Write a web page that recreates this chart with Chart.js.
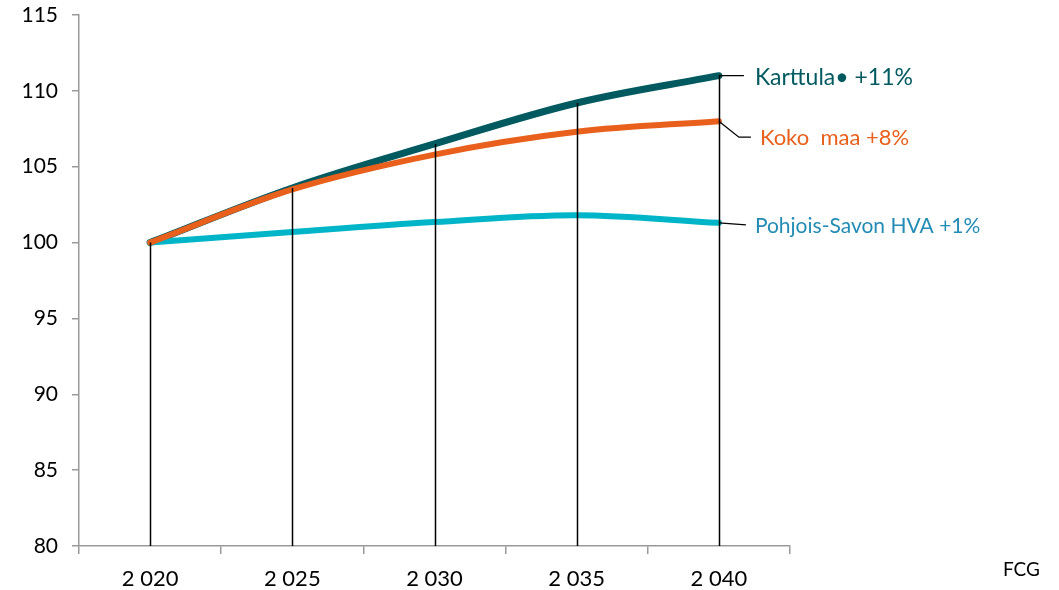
<!DOCTYPE html>
<html>
<head>
<meta charset="utf-8">
<script src="https://cdn.jsdelivr.net/npm/chart.js@4"></script>
<style>
  body { margin: 0; background: #fff; }
  canvas { display: block; }
</style>
</head>
<body>
<canvas id="chart" width="1059" height="590"></canvas>
<script>
// --- DATA ---
const years = ['2 020', '2 025', '2 030', '2 035', '2 040'];
const karttula = [100, 103.6, 106.5, 109.2, 111.0];
const kokoMaa = [100, 103.5, 105.8, 107.3, 108.0];
const pohjoisSavo = [100, 100.7, 101.35, 101.8, 101.3];
const seriesLabels = ['Karttula\u2022 +11%', 'Koko  maa +8%', 'Pohjois-Savon HVA +1%'];
const yMin = 80, yMax = 115, yStep = 5;

const FONT = "Lato, 'Open Sans', sans-serif";
const tealDark = '#005a60';
const orange = '#e8601c';
const cyan = '#00b5c8';

// pystyviivat pisteistä akselille + selitteet oikealla
const dropLines = {
    id: 'dropLines',
    afterDatasetsDraw(chart) {
        const { ctx, chartArea, scales } = chart;
        ctx.save();
        ctx.strokeStyle = '#000';
        ctx.lineWidth = 1.5;
        years.forEach((_, i) => {
            const top = Math.max(karttula[i], kokoMaa[i], pohjoisSavo[i]);
            const x = Math.round(scales.x.getPixelForValue(i)) + 0.5;
            ctx.beginPath();
            ctx.moveTo(x, scales.y.getPixelForValue(top));
            ctx.lineTo(x, chartArea.bottom);
            ctx.stroke();
        });

        // selitteet viimeisen pisteen viereen
        const last = years.length - 1;
        const x = scales.x.getPixelForValue(last);
        const yK = scales.y.getPixelForValue(karttula[last]);
        const yM = scales.y.getPixelForValue(kokoMaa[last]);
        const yP = scales.y.getPixelForValue(pohjoisSavo[last]);
        ctx.lineWidth = 1.3;
        ctx.beginPath();
        ctx.moveTo(x, yK); ctx.lineTo(x + 25, yK);
        ctx.moveTo(x, yM); ctx.lineTo(x + 20, yM + 16); ctx.lineTo(x + 32, yM + 16);
        ctx.moveTo(x, yP); ctx.lineTo(x + 27, yP + 2);
        ctx.stroke();

        ctx.textBaseline = 'middle';
        ctx.textAlign = 'left';
        ctx.font = '23px ' + FONT;
        ctx.fillStyle = tealDark;
        ctx.fillText(seriesLabels[0], x + 36, yK + 2);
        ctx.font = '22px ' + FONT;
        ctx.fillStyle = orange;
        ctx.fillText(seriesLabels[1], x + 41, yM + 17);
        ctx.font = '21px ' + FONT;
        ctx.fillStyle = '#238cb4';
        ctx.fillText(seriesLabels[2], x + 36, yP + 3);

        ctx.fillStyle = '#000';
        ctx.font = '19px ' + FONT;
        ctx.fillText('FCG', 1003, 570);
        ctx.restore();
    }
};

document.addEventListener('DOMContentLoaded', function () {
    Chart.defaults.font.family = FONT;
    Chart.defaults.color = '#000';

    const ctx = document.getElementById('chart').getContext('2d');
    new Chart(ctx, {
        type: 'line',
        data: {
            labels: years,
            datasets: [
                { label: 'Koko maa', data: kokoMaa, borderColor: orange, order: 1, borderWidth: 6 },
                { label: 'Pohjois-Savon HVA', data: pohjoisSavo, borderColor: cyan, order: 2, borderWidth: 6 },
                { label: 'Karttula', data: karttula, borderColor: tealDark, order: 3, borderWidth: 7 }
            ].map(d => Object.assign(d, {
                pointRadius: 0,
                tension: 0.35,
                borderCapStyle: 'round',
                fill: false
            }))
        },
        options: {
            responsive: false,
            animation: false,
            layout: { padding: { top: 15, right: 269, left: 0, bottom: 0 } },
            plugins: {
                legend: { display: false },
                tooltip: { enabled: false }
            },
            scales: {
                x: {
                    offset: true,
                    grid: {
                        offset: true,
                        drawOnChartArea: false,
                        drawTicks: true,
                        tickLength: 8,
                        color: '#999',
                        lineWidth: 1.5
                    },
                    border: { color: '#999', width: 1.5 },
                    ticks: { font: { size: 22 }, padding: 12, color: '#000' },
                    afterFit(scale) { scale.height = 44; }
                },
                y: {
                    min: yMin,
                    max: yMax,
                    ticks: { stepSize: yStep, font: { size: 21 }, padding: 14, color: '#000' },
                    grid: {
                        drawOnChartArea: false,
                        tickLength: 7,
                        color: '#999',
                        lineWidth: 1.5
                    },
                    border: { color: '#999', width: 1.5 },
                    afterFit(scale) {
                        scale.width = 79;
                        scale.paddingTop = 0;
                        scale.paddingBottom = 0;
                    }
                }
            }
        },
        plugins: [dropLines]
    });
});
</script>
</body>
</html>
